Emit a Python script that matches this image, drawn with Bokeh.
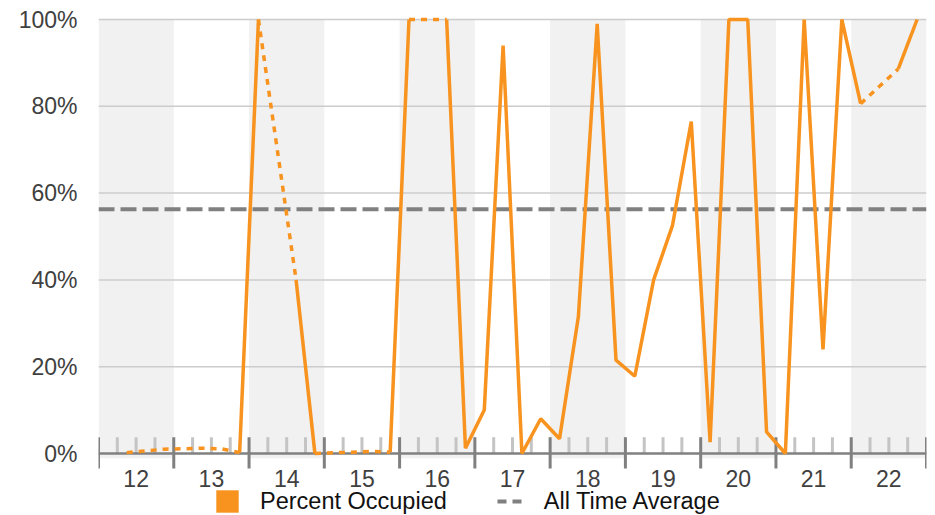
from bokeh.plotting import figure
from bokeh.models import FixedTicker, PrintfTickFormatter, Legend, LegendItem, Range1d
from bokeh.core.properties import value
from bokeh.embed import file_html
from bokeh.resources import INLINE

# ---------------- data ----------------
days = [12, 13, 14, 15, 16, 17, 18, 19, 20, 21, 22]
day_labels = ["12", "13", "14", "15", "16", "17", "18", "19", "20", "21", "22"]
shaded_days = [12, 14, 16, 18, 20, 22]
sample_hours = [3, 9, 15, 21]          # readings every 6 hours
first_reading = (12, 9)                # day, hour of first reading

occupied = [
    0.2, 0.6, 1.0,                      # 12
    1.1, 1.2, 1.1, 0.2,                 # 13
    100, 70, 40, 0,                     # 14
    0.2, 0.3, 0.5, 0.3,                 # 15
    100, 100, 100, 1.2,                 # 16
    10, 94, 0, 8,                       # 17
    3.4, 31.5, 99, 21.5,                # 18
    17.8, 40, 52.5, 76.5,               # 19
    2.6, 100, 100, 5,                   # 20
    0, 100, 24, 100,                    # 21
    80.6, 84.6, 88.6, 100,              # 22
]
estimated = [
    0, 1, 1,
    1, 1, 1, 0,
    0, 1, 0, 0,
    1, 1, 1, 0,
    0, 1, 0, 0,
    0, 0, 0, 0,
    0, 0, 0, 0,
    0, 0, 0, 0,
    0, 0, 0, 0,
    0, 0, 0, 0,
    0, 1, 0, 0,
]
all_time_average = 56.3
y_ticks = [0, 20, 40, 60, 80, 100]
series_label = "Percent Occupied"
average_label = "All Time Average"

# ---------------- styles ----------------
ORANGE = "#f7931e"
GRAY = "#808080"
BAND = "#f1f1f1"
GRID = "#cccccc"
FONT = "Liberation Sans"
NAN = float("nan")

# reading times in day units (day d spans d-0.5 .. d+0.5)
times = []
for d in days:
    for h in sample_hours:
        if (d, h) >= first_reading and len(times) < len(occupied):
            times.append(d - 0.5 + h / 24.0)

W, H = 935, 515
FRAME_LEFT, FRAME_TOP = 98, 11
FRAME_W = 828
px_per_pct = 4.34
zero_px = 453                       # page y of 0 %
x_lo = days[0] - 0.5
x_hi = days[-1] + 0.5
y_top = 100 + (zero_px - 100 * px_per_pct - FRAME_TOP) / px_per_pct
y_bot = -(H - zero_px) / px_per_pct
tick_top = 16.3 / px_per_pct
tick_bot = -15 / px_per_pct
band_bot = -4.7 / px_per_pct
label_y = -24.5 / px_per_pct

p = figure(width=W, height=H, output_backend="svg", toolbar_location=None,
           title=None, x_range=Range1d(x_lo, x_hi), y_range=Range1d(y_bot, y_top),
           min_border_left=FRAME_LEFT, min_border_right=W - FRAME_LEFT - FRAME_W,
           min_border_top=FRAME_TOP, min_border_bottom=0)
p.outline_line_color = None
p.xgrid.visible = False
p.ygrid.visible = False
p.xaxis.visible = False

# alternating day bands
p.quad(left=[d - 0.5 for d in shaded_days], right=[d + 0.5 for d in shaded_days],
       bottom=band_bot, top=100, fill_color=BAND, line_color=None)

# horizontal grid lines
gy = [t for t in y_ticks if t > 0]
p.segment(x0=[x_lo] * len(gy), x1=[x_hi] * len(gy), y0=gy, y1=gy,
          line_color=GRID, line_width=1.5)

# minor ticks (6 h) and major ticks (day boundaries)
bounds = [d - 0.5 for d in days] + [x_hi]
minor = [b + k / 4.0 for b in bounds[:-1] for k in (1, 2, 3)]
p.segment(x0=minor, x1=minor, y0=[0] * len(minor), y1=[tick_top] * len(minor),
          line_color="#c4c4c4", line_width=3)
p.segment(x0=[x_lo], x1=[x_hi], y0=[0], y1=[0], line_color=GRAY, line_width=2.5)
p.segment(x0=bounds, x1=bounds, y0=[tick_bot] * len(bounds), y1=[tick_top] * len(bounds),
          line_color=GRAY, line_width=3)

# day labels centred under each day
p.text(x=days, y=[label_y] * len(days), text=day_labels,
       text_font=value(FONT), text_font_size="23px", text_color="#404040",
       text_align="center", text_baseline="middle")

# all-time average
p.line(x=[x_lo, x_hi], y=[all_time_average, all_time_average],
       line_color=GRAY, line_width=4, line_dash="16 6")

# occupancy line: solid where measured, dotted where estimated
solid_xs, solid_ys, dot_xs, dot_ys = [], [], [], []
cur_style, cx, cy = None, [], []
for i in range(len(occupied) - 1):
    style = "dot" if (estimated[i] or estimated[i + 1]) else "solid"
    if style != cur_style:
        if cur_style is not None:
            (dot_xs if cur_style == "dot" else solid_xs).append(cx)
            (dot_ys if cur_style == "dot" else solid_ys).append(cy)
        cur_style = style
        cx, cy = [times[i]], [occupied[i]]
    cx.append(times[i + 1])
    cy.append(occupied[i + 1])
(dot_xs if cur_style == "dot" else solid_xs).append(cx)
(dot_ys if cur_style == "dot" else solid_ys).append(cy)

p.multi_line(xs=solid_xs, ys=solid_ys, line_color=ORANGE, line_width=3.5)
p.multi_line(xs=dot_xs, ys=dot_ys, line_color=ORANGE, line_width=3.5, line_dash="6 6")

# y axis
p.yaxis.ticker = FixedTicker(ticks=y_ticks)
p.yaxis.formatter = PrintfTickFormatter(format="%d%%")
p.yaxis.axis_line_color = None
p.yaxis.major_tick_line_color = None
p.yaxis.minor_tick_line_color = None
p.yaxis.major_tick_out = 0
p.yaxis.major_tick_in = 0
p.yaxis.major_label_standoff = 21
p.yaxis.major_label_text_font = FONT
p.yaxis.major_label_text_font_size = "23px"
p.yaxis.major_label_text_color = "#404040"

# legend (swatch renderers hold no visible data)
leg_sq = p.quad(left=[NAN], right=[NAN], top=[NAN], bottom=[NAN],
                fill_color=ORANGE, line_color=None)
leg_ln = p.line(x=[NAN], y=[NAN], line_color=GRAY, line_width=4, line_dash="9 6")
legend = Legend(items=[LegendItem(label=series_label, renderers=[leg_sq]),
                       LegendItem(label=average_label, renderers=[leg_ln])],
                orientation="horizontal", location=(115, 0),
                glyph_width=28, glyph_height=28, label_standoff=19, spacing=50,
                padding=0, margin=0, border_line_color=None, background_fill_alpha=0,
                label_text_font=FONT, label_text_font_size="23.5px", label_text_color="#111111")
p.add_layout(legend)

open("out.html", "w").write(file_html(p, INLINE))
